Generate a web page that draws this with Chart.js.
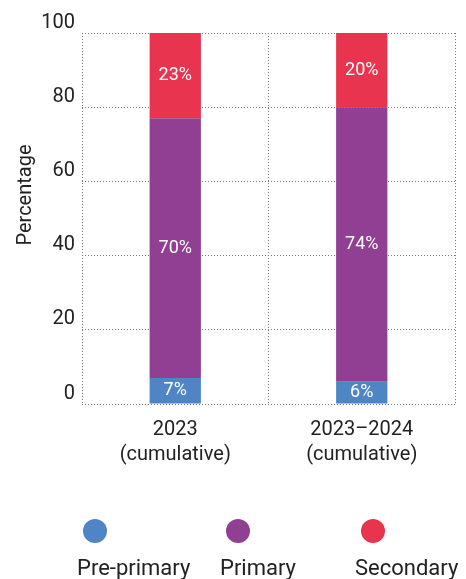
<!DOCTYPE html>
<html>
<head>
<meta charset="utf-8">
<script src="https://cdn.jsdelivr.net/npm/chart.js@4/dist/chart.umd.min.js"></script>
<style>
  html, body { margin: 0; padding: 0; background: #fff; }
  #wrap { width: 466px; height: 579px; position: relative; }
</style>
</head>
<body>
<div id="wrap"><canvas id="chart"></canvas></div>
<script>
const CATEGORIES = [['2023', '(cumulative)'], ['2023\u20132024', '(cumulative)']]
const SERIES_LABELS = ['Pre-primary', 'Primary', 'Secondary']
const PRE_PRIMARY = [7, 6]
const PRIMARY = [70, 74]
const SECONDARY = [23, 20]
const Y_TICKS = [0, 20, 40, 60, 80, 100]

const COLORS = ['#5085c5', '#913f92', '#e8344e']
const FONT = 'Roboto, "Noto Sans", sans-serif'
const TEXT = '#222222'
const GRID = '#7a7a7a'

// legend layout (dot centres, label left edges)
const LEGEND_X = [95, 238, 373]
const LEGEND_DOT_Y = 531
const LEGEND_TEXT_Y = 575

const barLabels = {
  id: 'barLabels',
  afterDatasetsDraw(chart) {
    const { ctx } = chart
    ctx.save()
    ctx.fillStyle = '#ffffff'
    ctx.font = `18px ${FONT}`
    ctx.textAlign = 'center'
    ctx.textBaseline = 'middle'
    chart.data.datasets.forEach((ds, i) => {
      chart.getDatasetMeta(i).data.forEach((bar, j) => {
        const { x, y, base } = bar.getProps(['x', 'y', 'base'], true)
        ctx.fillText(`${ds.data[j]}%`, x, (y + base) / 2)
      })
    })
    ctx.restore()
  },
}

const extras = {
  id: 'extras',
  afterDraw(chart) {
    const { ctx, chartArea } = chart
    ctx.save()
    // y axis title
    ctx.fillStyle = TEXT
    ctx.font = `20px ${FONT}`
    ctx.textAlign = 'center'
    ctx.textBaseline = 'middle'
    ctx.translate(26, chartArea.top + 162)
    ctx.rotate(-Math.PI / 2)
    ctx.fillText('Percentage', 0, 0)
    ctx.restore()

    // legend: dot above, label below
    ctx.save()
    chart.data.datasets.forEach((ds, i) => {
      ctx.fillStyle = ds.backgroundColor
      ctx.beginPath()
      ctx.arc(LEGEND_X[i], LEGEND_DOT_Y, 12, 0, Math.PI * 2)
      ctx.fill()
      ctx.fillStyle = TEXT
      ctx.font = `22px ${FONT}`
      ctx.textAlign = 'left'
      ctx.textBaseline = 'alphabetic'
      ctx.fillText(ds.label, LEGEND_X[i] - 18, LEGEND_TEXT_Y)
    })
    ctx.restore()
  },
}

const seriesData = [PRE_PRIMARY, PRIMARY, SECONDARY]

new Chart(document.getElementById('chart'), {
  type: 'bar',
  data: {
    labels: CATEGORIES,
    datasets: SERIES_LABELS.map((label, i) => ({
      label,
      data: seriesData[i],
      backgroundColor: COLORS[i],
      borderWidth: 0,
      categoryPercentage: 1,
      barPercentage: 0.275,
    })),
  },
  options: {
    animation: false,
    responsive: true,
    maintainAspectRatio: false,
    layout: { padding: { top: 33, right: 11, bottom: 105, left: 0 } },
    scales: {
      x: {
        stacked: true,
        afterFit: (scale) => { scale.height = 70 },
        border: { display: false, dash: [1, 2] },
        grid: { color: GRID, drawTicks: false, offset: true },
        ticks: { color: TEXT, font: { family: FONT, size: 20, lineHeight: 1.25 }, padding: 13, maxRotation: 0 },
      },
      y: {
        stacked: true,
        min: 0,
        max: 100,
        afterFit: (scale) => { scale.width = 82 },
        afterBuildTicks: (scale) => { scale.ticks = Y_TICKS.map((value) => ({ value })) },
        border: { display: false, dash: [1, 2] },
        grid: { color: GRID, drawTicks: false },
        ticks: { color: TEXT, font: { family: FONT, size: 20 }, padding: 7, labelOffset: -10.5 },
      },
    },
    plugins: {
      legend: { display: false },
      tooltip: { enabled: false },
    },
  },
  plugins: [barLabels, extras],
})
</script>
</body>
</html>
